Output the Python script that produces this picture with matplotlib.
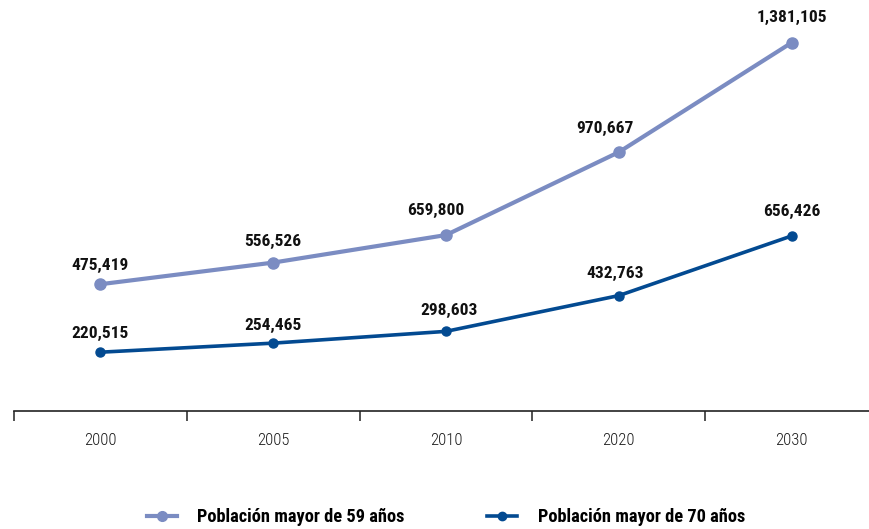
import matplotlib
matplotlib.use("Agg")
import matplotlib.pyplot as plt
from matplotlib.lines import Line2D

years = ["2000", "2005", "2010", "2020", "2030"]
pob59 = [475419, 556526, 659800, 970667, 1381105]
pob70 = [220515, 254465, 298603, 432763, 656426]
series_names = ["Población mayor de 59 años", "Población mayor de 70 años"]

plt.rcParams['font.family'] = ['Roboto Condensed', 'DejaVu Sans']

c59 = "#7b8cc2"
c70 = "#034a91"

fig = plt.figure(figsize=(8.7, 5.29), dpi=100)
ax = fig.add_axes([14/870, 118/529, 864/870, 400/529])
x = list(range(len(years)))
ax.plot(x, pob59, color=c59, lw=3.0, marker="o", ms=8, zorder=3)
ax.plot(x, pob70, color=c70, lw=2.6, marker="o", ms=6.5, zorder=3)

ax.set_xlim(-0.5, 4.5)
ax.set_ylim(0, 1.5e6)
for s in ["top", "right", "left"]:
    ax.spines[s].set_visible(False)
ax.spines["bottom"].set_color("#222222")
ax.spines["bottom"].set_linewidth(1.2)
ax.set_yticks([])
ax.set_xticks([i - 0.5 for i in range(len(years) + 1)])
ax.set_xticklabels([])
ax.set_xticks(x, minor=True)
ax.set_xticklabels(years, minor=True, fontsize=12, fontweight="light", color="#1a1a1a")
ax.tick_params(axis="x", which="major", length=7, width=1.2, color="#333333", direction="out")
ax.tick_params(axis="x", which="minor", length=0, pad=16)

off59 = [(0, 19), (0, 21), (-10, 25), (-14, 24), (0, 25)]
off70 = [(0, 19), (0, 18), (3, 21), (-4, 22), (0, 24)]
for i in x:
    ax.annotate(f"{pob59[i]:,}", (i, pob59[i]), xytext=off59[i], textcoords="offset pixels",
                ha="center", va="center", fontsize=12.5, fontweight="bold", color="#111111")
    ax.annotate(f"{pob70[i]:,}", (i, pob70[i]), xytext=off70[i], textcoords="offset pixels",
                ha="center", va="center", fontsize=12.5, fontweight="bold", color="#111111")

handles = [Line2D([], [], color=c59, lw=3.0, marker="o", ms=7),
           Line2D([], [], color=c70, lw=2.6, marker="o", ms=6)]
fig.legend(handles, series_names, loc="center", bbox_to_anchor=(0.5125, 0.022),
           ncol=2, frameon=False, prop={"size": 13.2, "weight": "bold"},
           handlelength=1.65, columnspacing=4.5, handletextpad=1.1)

fig.savefig("out.png", dpi=100)
